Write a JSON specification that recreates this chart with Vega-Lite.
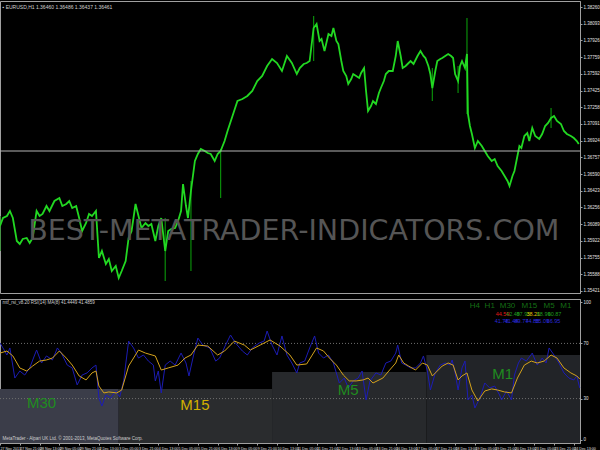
{
 "$schema": "https://vega.github.io/schema/vega-lite/v6.json",
 "background": "#000000",
 "padding": {"left": -5, "top": 0, "right": 0, "bottom": 0},
 "spacing": 4,
 "config": {
  "view": {"stroke": "#a0a0a0", "fill": "#000000"},
  "axis": {"grid": false, "title": null, "labelFont": "Liberation Sans", "labelFontSize": 4.5, "labelColor": "#e0e0e0", "tickColor": "#a0a0a0", "domainColor": "#a0a0a0", "tickSize": 2, "labelPadding": 1, "labelOverlap": false}
 },
 "datasets": {
  "px": [
   {"i":0,"c":1.3607},{"i":2.4,"c":1.3615},{"i":5.6,"c":1.3617},{"i":8,"c":1.3622},{"i":10.4,"c":1.3615},{"i":13.6,"c":1.3592},{"i":16,"c":1.3589},{"i":18.4,"c":1.3594},{"i":21.6,"c":1.3595},{"i":24,"c":1.359},{"i":26.4,"c":1.3595},{"i":29.6,"c":1.3622},{"i":32,"c":1.3617},{"i":34.4,"c":1.3619},{"i":37.6,"c":1.3627},{"i":40,"c":1.3622},{"i":44,"c":1.3632},{"i":48,"c":1.3635},{"i":50.4,"c":1.3627},{"i":53.6,"c":1.3629},{"i":56,"c":1.3632},{"i":58.4,"c":1.3625},{"i":61.6,"c":1.3627},{"i":64,"c":1.3615},{"i":66.4,"c":1.3602},{"i":69.6,"c":1.361},{"i":72,"c":1.3619},{"i":74.4,"c":1.3617},{"i":77.6,"c":1.3622},{"i":80,"c":1.3575},{"i":82.4,"c":1.3582},{"i":85.6,"c":1.3569},{"i":88,"c":1.3574},{"i":90.4,"c":1.3562},{"i":93.6,"c":1.3567},{"i":96,"c":1.3555},{"i":98.4,"c":1.3562},{"i":101.6,"c":1.3572},{"i":104,"c":1.3595},{"i":106.4,"c":1.3602},{"i":109.6,"c":1.3629},{"i":112,"c":1.3617},{"i":114.4,"c":1.3605},{"i":117.6,"c":1.361},{"i":120,"c":1.3607},{"i":122.4,"c":1.3609},{"i":125.6,"c":1.3592},{"i":128,"c":1.3607},{"i":130.4,"c":1.3615},{"i":133.6,"c":1.3582},{"i":136,"c":1.3602},{"i":138.4,"c":1.3604},{"i":141.6,"c":1.3605},{"i":144,"c":1.3612},{"i":146.4,"c":1.3622},{"i":148,"c":1.3649},{"i":150.4,"c":1.3627},{"i":152,"c":1.3615},{"i":154.4,"c":1.3642},{"i":157.6,"c":1.3672},{"i":160,"c":1.3679},{"i":162.4,"c":1.3684},{"i":165.6,"c":1.3682},{"i":168,"c":1.368},{"i":170.4,"c":1.3679},{"i":173.6,"c":1.3672},{"i":176,"c":1.3679},{"i":178.4,"c":1.3682},{"i":181.6,"c":1.3692},{"i":184,"c":1.3702},{"i":188,"c":1.3717},{"i":192,"c":1.3732},{"i":196,"c":1.3734},{"i":200,"c":1.3737},{"i":204,"c":1.3742},{"i":208,"c":1.3752},{"i":212,"c":1.3757},{"i":216,"c":1.3767},{"i":220,"c":1.3774},{"i":224,"c":1.377},{"i":228,"c":1.3762},{"i":232,"c":1.3777},{"i":236,"c":1.377},{"i":240,"c":1.3759},{"i":242.4,"c":1.3765},{"i":245.6,"c":1.3769},{"i":248,"c":1.377},{"i":250.4,"c":1.3772},{"i":253.6,"c":1.3805},{"i":256,"c":1.3809},{"i":258.4,"c":1.3792},{"i":260,"c":1.3794},{"i":262.4,"c":1.3782},{"i":265.6,"c":1.3799},{"i":268,"c":1.3797},{"i":269.6,"c":1.3805},{"i":272,"c":1.3792},{"i":273.6,"c":1.3789},{"i":276,"c":1.3772},{"i":277.6,"c":1.3762},{"i":280,"c":1.3757},{"i":281.6,"c":1.3749},{"i":284,"c":1.3754},{"i":285.6,"c":1.3759},{"i":288,"c":1.3757},{"i":290.4,"c":1.3755},{"i":292,"c":1.376},{"i":294.4,"c":1.3765},{"i":296,"c":1.3742},{"i":297.6,"c":1.3722},{"i":300,"c":1.3727},{"i":301.6,"c":1.3732},{"i":304,"c":1.3729},{"i":306.4,"c":1.374},{"i":308,"c":1.3745},{"i":310.4,"c":1.3752},{"i":312,"c":1.3759},{"i":314.4,"c":1.3762},{"i":317.6,"c":1.3762},{"i":320,"c":1.3777},{"i":321.6,"c":1.3792},{"i":324,"c":1.3777},{"i":325.6,"c":1.3765},{"i":328,"c":1.3767},{"i":329.6,"c":1.3769},{"i":332,"c":1.3772},{"i":334.4,"c":1.3769},{"i":337.6,"c":1.3777},{"i":340,"c":1.3782},{"i":342.4,"c":1.3777},{"i":344,"c":1.3775},{"i":346.4,"c":1.3767},{"i":348,"c":1.3759},{"i":349.6,"c":1.3745},{"i":352,"c":1.3762},{"i":353.6,"c":1.3772},{"i":356,"c":1.3774},{"i":357.6,"c":1.3775},{"i":360,"c":1.3777},{"i":362.4,"c":1.3779},{"i":364.8,"c":1.3777},{"i":366.4,"c":1.3775},{"i":368,"c":1.3759},{"i":370.4,"c":1.3752},{"i":372,"c":1.3767},{"i":373.6,"c":1.3772},{"i":376,"c":1.3765},{"i":377.6,"c":1.3779},{"i":378.4,"c":1.3719},{"i":380,"c":1.3707},{"i":381.6,"c":1.3699},{"i":384,"c":1.3685},{"i":386.4,"c":1.3692},{"i":389.6,"c":1.3687},{"i":392,"c":1.3682},{"i":394.4,"c":1.3677},{"i":397.6,"c":1.3672},{"i":400,"c":1.3674},{"i":402.4,"c":1.3667},{"i":405.6,"c":1.3662},{"i":408,"c":1.3657},{"i":410.4,"c":1.3652},{"i":412,"c":1.3647},{"i":414.4,"c":1.3657},{"i":416,"c":1.3662},{"i":418.4,"c":1.3677},{"i":420,"c":1.3687},{"i":421.6,"c":1.3685},{"i":424,"c":1.3697},{"i":426.4,"c":1.37},{"i":428,"c":1.3692},{"i":430.4,"c":1.3705},{"i":432.8,"c":1.3697},{"i":436,"c":1.3694},{"i":438.4,"c":1.3699},{"i":440.8,"c":1.3707},{"i":443.2,"c":1.371},{"i":445.6,"c":1.3715},{"i":448,"c":1.3717},{"i":450.4,"c":1.3712},{"i":453.6,"c":1.3709},{"i":456,"c":1.3702},{"i":458.4,"c":1.3699},{"i":461.6,"c":1.3697},{"i":464,"c":1.3695},{"i":466.4,"c":1.3692},{"i":468,"c":1.3689}
  ],
  "wick": [
   {"i":0,"lo":1.3582,"hi":1.3617},{"i":133.6,"lo":1.3552,"hi":1.3615},{"i":154.4,"lo":1.3562,"hi":1.3652},{"i":178.4,"lo":1.3635,"hi":1.3684},{"i":253.6,"lo":1.3772,"hi":1.3817},{"i":349.6,"lo":1.3732,"hi":1.3765},{"i":370.4,"lo":1.374,"hi":1.3767},{"i":377.6,"lo":1.3719,"hi":1.3815},{"i":445.6,"lo":1.3705,"hi":1.3725}
  ],
  "rsi": [
   {"i":0,"v":70.3},{"i":2.4,"v":66.7},{"i":5.6,"v":61.6},{"i":8,"v":66.7},{"i":12,"v":44.9},{"i":16,"v":50},{"i":20,"v":47.1},{"i":24,"v":52.2},{"i":28,"v":61.6},{"i":29.6,"v":65.2},{"i":33.6,"v":55.8},{"i":37.6,"v":60.9},{"i":42.4,"v":58},{"i":46.4,"v":66.7},{"i":49.6,"v":63},{"i":54.4,"v":54.3},{"i":58.4,"v":52.2},{"i":62.4,"v":39.9},{"i":66.4,"v":47.1},{"i":70.4,"v":48.6},{"i":74.4,"v":52.2},{"i":77.6,"v":54.3},{"i":80,"v":30.4},{"i":82.4,"v":24.6},{"i":85.6,"v":32.6},{"i":89.6,"v":30.4},{"i":93.6,"v":35.5},{"i":96.8,"v":31.2},{"i":100,"v":42.8},{"i":104,"v":71.7},{"i":108,"v":66.7},{"i":112,"v":59.4},{"i":116,"v":61.6},{"i":120,"v":57.2},{"i":124,"v":54.3},{"i":125.6,"v":42.8},{"i":128,"v":50},{"i":130.4,"v":34.1},{"i":133.6,"v":54.3},{"i":137.6,"v":57.2},{"i":141.6,"v":54.3},{"i":146.4,"v":63},{"i":150.4,"v":55.8},{"i":152.8,"v":46.4},{"i":156,"v":59.4},{"i":160,"v":73.9},{"i":164,"v":68.8},{"i":169.6,"v":66.7},{"i":174.4,"v":57.2},{"i":177.6,"v":59.4},{"i":182.4,"v":68.8},{"i":186.4,"v":76.1},{"i":190.4,"v":70.3},{"i":196,"v":64.5},{"i":200,"v":61.6},{"i":204,"v":66.7},{"i":209.6,"v":70.3},{"i":213.6,"v":71.7},{"i":216,"v":79},{"i":220,"v":68.8},{"i":224,"v":61.6},{"i":228,"v":75.4},{"i":232,"v":61.6},{"i":236,"v":55.8},{"i":240,"v":48.6},{"i":242.4,"v":55.8},{"i":246.4,"v":57.2},{"i":250.4,"v":66.7},{"i":254.4,"v":75.4},{"i":257.6,"v":63},{"i":261.6,"v":59.4},{"i":265.6,"v":61.6},{"i":269.6,"v":55.8},{"i":274.4,"v":41.3},{"i":278.4,"v":44.9},{"i":281.6,"v":37.7},{"i":285.6,"v":42.8},{"i":289.6,"v":44.9},{"i":292.8,"v":50},{"i":296,"v":29},{"i":299.2,"v":42.8},{"i":304,"v":48.6},{"i":308,"v":47.1},{"i":312,"v":55.8},{"i":316,"v":57.2},{"i":320,"v":63},{"i":321.6,"v":68.8},{"i":324.8,"v":55.8},{"i":328,"v":54.3},{"i":332,"v":52.2},{"i":336,"v":52.2},{"i":340,"v":55.8},{"i":342.4,"v":60.9},{"i":345.6,"v":50},{"i":348,"v":36.2},{"i":352,"v":48.6},{"i":356,"v":54.3},{"i":360,"v":55.8},{"i":364,"v":54.3},{"i":365.6,"v":58},{"i":368,"v":48.6},{"i":370.4,"v":36.2},{"i":373.6,"v":52.2},{"i":376,"v":57.2},{"i":378.4,"v":29},{"i":381.6,"v":32.6},{"i":384,"v":23.2},{"i":388,"v":30.4},{"i":392,"v":41.3},{"i":396,"v":37.7},{"i":400,"v":39.1},{"i":404,"v":32.6},{"i":405.6,"v":29},{"i":409.6,"v":35.5},{"i":413.6,"v":29},{"i":416,"v":47.1},{"i":419.2,"v":55.8},{"i":421.6,"v":59.4},{"i":425.6,"v":57.2},{"i":430.4,"v":63},{"i":434.4,"v":54.3},{"i":438.4,"v":59.4},{"i":441.6,"v":55.8},{"i":444,"v":66.7},{"i":448,"v":61.6},{"i":452,"v":55.8},{"i":456,"v":48.6},{"i":460,"v":44.9},{"i":464,"v":43.5},{"i":466.4,"v":46.4},{"i":468.8,"v":37.7}
  ],
  "ma": [
   {"i":0,"v":63},{"i":5.6,"v":64.5},{"i":10.4,"v":60.9},{"i":16,"v":52.2},{"i":21.6,"v":50},{"i":26.4,"v":53.6},{"i":32,"v":57.2},{"i":37.6,"v":58},{"i":42.4,"v":59.4},{"i":48,"v":64.5},{"i":53.6,"v":59.4},{"i":58.4,"v":54.3},{"i":64,"v":46.4},{"i":69.6,"v":43.5},{"i":74.4,"v":48.6},{"i":77.6,"v":50},{"i":80,"v":39.1},{"i":84,"v":34.1},{"i":88,"v":34.8},{"i":94.4,"v":34.1},{"i":98.4,"v":36.2},{"i":104,"v":53.6},{"i":112,"v":65.2},{"i":117.6,"v":63},{"i":125.6,"v":60.9},{"i":130.4,"v":50.7},{"i":136,"v":52.2},{"i":144,"v":54.3},{"i":149.6,"v":59.4},{"i":154.4,"v":61.6},{"i":160,"v":68.8},{"i":168,"v":68.1},{"i":176,"v":61.6},{"i":181.6,"v":64.5},{"i":189.6,"v":71.7},{"i":197.6,"v":68.8},{"i":202.4,"v":65.2},{"i":210.4,"v":68.8},{"i":218.4,"v":72.5},{"i":226.4,"v":68.1},{"i":234.4,"v":61.6},{"i":240,"v":54.3},{"i":248,"v":55.1},{"i":252,"v":60.9},{"i":256,"v":66.7},{"i":261.6,"v":64.5},{"i":266.4,"v":59.4},{"i":272,"v":54.3},{"i":277.6,"v":47.1},{"i":282.4,"v":42.8},{"i":288,"v":42.8},{"i":293.6,"v":43.5},{"i":297.6,"v":44.9},{"i":301.6,"v":41.3},{"i":309.6,"v":44.9},{"i":314.4,"v":50},{"i":320,"v":55.8},{"i":322.4,"v":61.6},{"i":326.4,"v":55.8},{"i":330.4,"v":53.6},{"i":336,"v":50.7},{"i":341.6,"v":55.8},{"i":345.6,"v":54.3},{"i":349.6,"v":46.4},{"i":353.6,"v":50},{"i":357.6,"v":53.6},{"i":362.4,"v":55.8},{"i":366.4,"v":54.3},{"i":370.4,"v":43.5},{"i":373.6,"v":46.4},{"i":377.6,"v":48.6},{"i":381.6,"v":36.2},{"i":386.4,"v":28.3},{"i":392,"v":35.5},{"i":397.6,"v":37},{"i":402.4,"v":36.2},{"i":408,"v":34.8},{"i":413.6,"v":34.1},{"i":418.4,"v":44.9},{"i":424,"v":54.3},{"i":429.6,"v":57.2},{"i":434.4,"v":55.8},{"i":440,"v":57.2},{"i":445.6,"v":61.6},{"i":450.4,"v":59.4},{"i":456,"v":52.2},{"i":461.6,"v":48.6},{"i":466.4,"v":46.4},{"i":468.8,"v":44.2}
  ],
  "mtf": [
   {"tf":"M30","x0":0,"x1":96,"top":37,"li":33.6,"lv":26.8},
   {"tf":"M15","x0":96,"x1":220,"top":37,"li":157.6,"lv":25.4},
   {"tf":"M5","x0":220,"x1":344.8,"top":49.3,"li":281.6,"lv":36.2},
   {"tf":"M1","x0":344.8,"x1":469,"top":61.6,"li":406.4,"lv":47.8}
  ],
  "tbl": [
   {"t":"H4","i":384,"v":97.1,"g":"h"},{"t":"H1","i":396,"v":97.1,"g":"h"},{"t":"M30","i":410.4,"v":97.1,"g":"h"},{"t":"M15","i":428,"v":97.1,"g":"h"},{"t":"M5","i":444,"v":97.1,"g":"h"},{"t":"M1","i":457.6,"v":97.1,"g":"h"},
   {"t":"44.59","i":406.4,"v":91.3,"g":"r"},{"t":"42.49","i":414.8,"v":91.3,"g":"g"},{"t":"87.95","i":423.2,"v":91.3,"g":"g"},{"t":"38.21","i":431.2,"v":91.3,"g":"y"},{"t":"88.99","i":439.6,"v":91.3,"g":"g"},{"t":"60.87","i":448.4,"v":91.3,"g":"g"},
   {"t":"41.78","i":405.6,"v":86.2,"g":"b"},{"t":"41.44","i":413.6,"v":86.2,"g":"b"},{"t":"89.77","i":421.6,"v":86.2,"g":"b"},{"t":"44.88","i":430.4,"v":86.2,"g":"b"},{"t":"55.09","i":438.4,"v":86.2,"g":"b"},{"t":"66.95","i":447.6,"v":86.2,"g":"b"}
  ]
 },
 "vconcat": [
  {
   "width": 580,
   "height": 292,
   "layer": [
    {
     "data": {"name": "wick"},
     "mark": {"type": "rule", "color": "#0a8c0a", "strokeWidth": 1.2},
     "encoding": {
      "x": {"field": "i", "type": "quantitative", "scale": {"domain": [0, 469], "nice": false, "zero": false}, "axis": null},
      "y": {"field": "lo", "type": "quantitative", "scale": {"domain": [1.354, 1.3832], "nice": false, "zero": false},
            "axis": {"orient": "right", "format": ".5f", "tickCount": 40, "labelOverlap": false, "labelFontSize": 4.5, "values": [1.3826,1.38093,1.37926,1.37759,1.37592,1.37425,1.37258,1.37091,1.36924,1.36757,1.3659,1.36423,1.36256,1.36089,1.35922,1.35755,1.35588,1.35421]}},
      "y2": {"field": "hi"}
     }
    },
    {
     "data": {"name": "px"},
     "mark": {"type": "line", "color": "#22d822", "strokeWidth": 1.8},
     "encoding": {
      "x": {"field": "i", "type": "quantitative"},
      "y": {"field": "c", "type": "quantitative"}
     }
    },
    {
     "data": {"values": [{"p": 1.3682}]},
     "mark": {"type": "rule", "color": "#b4b4b4", "strokeWidth": 1},
     "encoding": {"y": {"field": "p", "type": "quantitative"}}
    },
    {
     "data": {"values": [{"t": "BEST-METATRADER-INDICATORS.COM", "i": 237.6, "p": 1.3602}]},
     "mark": {"type": "text", "font": "DejaVu Sans", "fontSize": 28.5, "color": "#555555", "align": "center", "baseline": "middle"},
     "encoding": {
      "x": {"field": "i", "type": "quantitative"},
      "y": {"field": "p", "type": "quantitative"},
      "text": {"field": "t"}
     }
    },
    {
     "data": {"values": [{"t": "\u25aa EURUSD,H1  1.36460 1.36486 1.36437 1.36461", "i": 2, "p": 1.38265}]},
     "mark": {"type": "text", "font": "Liberation Sans", "fontSize": 5, "color": "#d0d0d0", "align": "left", "baseline": "middle"},
     "encoding": {
      "x": {"field": "i", "type": "quantitative"},
      "y": {"field": "p", "type": "quantitative"},
      "text": {"field": "t"}
     }
    }
   ]
  },
  {
   "width": 580,
   "height": 144,
   "layer": [
    {
     "data": {"name": "mtf"},
     "mark": {"type": "rect"},
     "encoding": {
      "x": {"field": "x0", "type": "quantitative", "scale": {"domain": [0, 469], "nice": false, "zero": false},
            "axis": {"tickCount": 40, "values": [0,16,32,48,64,80,96,112,128,144,160,176,192,208,224,240,256,272,288,304,320,336,352,368,384,400,416,432,448,464],
                     "labelExpr": "['27 Nov 2013','27 Nov 21:00','28 Nov 13:00','29 Nov 05:00','29 Nov 21:00','2 Dec 13:00','3 Dec 05:00','3 Dec 21:00','4 Dec 13:00','5 Dec 05:00','5 Dec 21:00','6 Dec 13:00','9 Dec 05:00','9 Dec 21:00','10 Dec 13:00','11 Dec 05:00','11 Dec 21:00','12 Dec 13:00','13 Dec 05:00','13 Dec 21:00','16 Dec 13:00','17 Dec 05:00','17 Dec 21:00','18 Dec 13:00','19 Dec 05:00','19 Dec 21:00','20 Dec 13:00','23 Dec 05:00','23 Dec 21:00','24 Dec 13:00'][round(datum.value/16)]",
                     "labelAlign": "left", "labelDx": 1, "labelFontSize": 3.6, "labelOverlap": false, "labelFlush": false}},
      "x2": {"field": "x1"},
      "y": {"field": "top", "type": "quantitative", "scale": {"domain": [-2.2, 102.2], "nice": false, "zero": false},
            "axis": {"orient": "right", "tickCount": 10, "values": [0, 30, 70, 100], "labelOverlap": false}},
      "y2": {"datum": -2.2},
      "color": {"field": "tf", "type": "nominal", "scale": {"domain": ["M30", "M15", "M5", "M1"], "range": ["#3b3d49", "#2a2c2e", "#27292c", "#222428"]}, "legend": null}
     }
    },
    {
     "data": {"values": [{"lv": 70}, {"lv": 30}]},
     "mark": {"type": "rule", "color": "#6e6e6e", "strokeDash": [1, 2], "strokeWidth": 1},
     "encoding": {"y": {"field": "lv", "type": "quantitative"}}
    },
    {
     "data": {"name": "rsi"},
     "mark": {"type": "line", "color": "#1c1cb4", "strokeWidth": 1},
     "encoding": {
      "x": {"field": "i", "type": "quantitative"},
      "y": {"field": "v", "type": "quantitative"}
     }
    },
    {
     "data": {"name": "ma"},
     "mark": {"type": "line", "color": "#d4a21c", "strokeWidth": 1},
     "encoding": {
      "x": {"field": "i", "type": "quantitative"},
      "y": {"field": "v", "type": "quantitative"}
     }
    },
    {
     "data": {"name": "mtf"},
     "mark": {"type": "text", "font": "Liberation Sans", "fontSize": 15, "align": "center", "baseline": "middle"},
     "encoding": {
      "x": {"field": "li", "type": "quantitative"},
      "y": {"field": "lv", "type": "quantitative"},
      "text": {"field": "tf"},
      "color": {"condition": {"test": "datum.tf === 'M15'", "value": "#d4b000"}, "value": "#1f8c1f"}
     }
    },
    {
     "data": {"name": "tbl"},
     "transform": [{"filter": "datum.g === 'h'"}],
     "mark": {"type": "text", "font": "Liberation Sans", "fontSize": 8, "align": "center", "baseline": "middle", "color": "#146e14"},
     "encoding": {
      "x": {"field": "i", "type": "quantitative"},
      "y": {"field": "v", "type": "quantitative"},
      "text": {"field": "t"}
     }
    },
    {
     "data": {"name": "tbl"},
     "transform": [{"filter": "datum.g !== 'h'"}],
     "mark": {"type": "text", "font": "Liberation Sans", "fontSize": 5.5, "align": "center", "baseline": "middle"},
     "encoding": {
      "x": {"field": "i", "type": "quantitative"},
      "y": {"field": "v", "type": "quantitative"},
      "text": {"field": "t"},
      "color": {"condition": [{"test": "datum.g === 'r'", "value": "#e01818"}, {"test": "datum.g === 'y'", "value": "#e0c000"}, {"test": "datum.g === 'b'", "value": "#2a2ad8"}], "value": "#1e9a1e"}
     }
    },
    {
     "data": {"values": [{"t": "mtf_rsi_v8.20 RSI(14) MA(8) 41.4449 41.4859", "i": 2, "v": 99.5}, {"t": "MetaTrader - Alpari UK Ltd. \u00a9 2001-2013, MetaQuotes Software Corp.", "i": 2, "v": 0.8}]},
     "mark": {"type": "text", "font": "Liberation Sans", "fontSize": 4.5, "color": "#cfcfcf", "align": "left", "baseline": "middle"},
     "encoding": {
      "x": {"field": "i", "type": "quantitative"},
      "y": {"field": "v", "type": "quantitative"},
      "text": {"field": "t"}
     }
    }
   ]
  }
 ]
}
